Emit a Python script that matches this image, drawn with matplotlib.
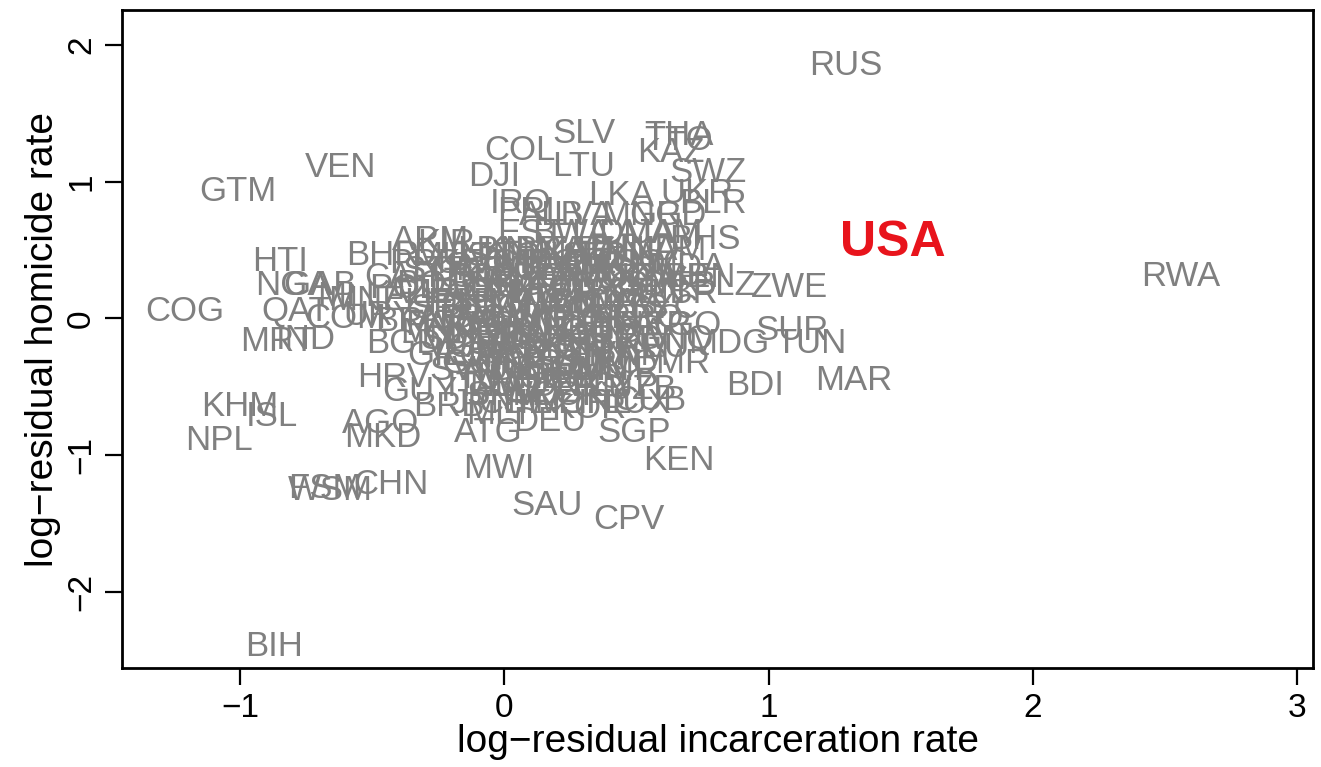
import matplotlib
matplotlib.use("Agg")
import matplotlib.pyplot as plt

# Country labels (ISO codes) and their log-residual coordinates
codes = [
    "RUS", "RWA", "GTM", "VEN", "COG", "HTI", "NGA", "GAB", "QAT", "MRT", "IND",
    "KHM", "ISL", "NPL", "AGO", "MKD", "FSM", "WSM", "CHN", "BIH", "MWI", "SAU",
    "CPV", "KEN", "SGP", "ATG", "DEU", "BDI", "MAR", "SUR", "TUN", "MDG", "ZWE",
    "CMR", "SWZ", "THA", "TTO", "KAZ", "SLV", "COL", "LTU", "DJI", "IRQ", "PRI",
    "LKA", "UKR", "BLR", "BHS", "MDA", "BLZ", "ARM", "KIR", "BHR", "HRV", "BGD",
    "BRB", "GUY", "CUB", "UZB", "MLI", "MNE", "POL", "BOL", "COM", "URY", "BRN",
    "ALB", "LVA", "MNG", "GRD", "EST", "BWA", "LCA", "DMA", "JAM",
    "LBN", "KNA", "BRA", "ZAF", "PAN", "HND", "NAM",
    "PRK", "GEO", "VCT", "MEX", "DOM", "ECU", "LSO", "NIC",
    "CAF", "TJK", "SLE", "CRI", "PER", "GHA", "MOZ", "UGA", "ZMB", "BEN",
    "AZE", "LAO", "IRN", "PHL", "KWT", "PRY", "TZA", "SEN", "LBR",
    "SRB", "BGR", "ROU", "TUR", "ARG", "CHL", "MYS", "SYC",
    "PAK", "JOR", "EGY", "HUN", "CZE", "GIN", "BFA", "NER", "TGO",
    "SDN", "YEM", "IDN", "SVK", "PRT", "ISR", "CIV", "GNQ",
    "GRC", "ESP", "ARE", "NZL", "CAN", "FRA", "VNM",
    "SVN", "AUS", "GBR", "BEL", "OMN", "MMR",
    "ITA", "NLD", "AUT", "DNK", "FIN", "CYP",
    "JPN", "CHE", "SWE", "NOR", "IRL", "LUX", "MLT", "KOR",
    "MUS", "BTN", "TON", "VUT", "SLB", "PLW",
    "STP", "GNB", "GMB", "SOM", "ERI", "ETH", "TCD",
    "LBY", "TKM", "KGZ", "AFG", "MCO", "AND", "SMR",
    "LIE", "PSE", "HKG", "MAC", "TWN", "BMU", "CYM",
    "ABW", "CUW", "GUM", "NCL", "PYF", "GRL", "FRO",
    "MNP", "VIR", "GIB", "IMN", "JEY", "GGY", "TCA",
    "VGB", "AIA", "MSR", "XKX", "SHN", "MYT", "REU",
    "GUF", "GLP", "MTQ", "SSD", "NRU",
    "TUV", "MHL", "SXM", "BES",
    "SPM", "WLF", "COK",
]

incarceration = [
    1.29, 2.56, -1.01, -0.62, -1.21, -0.85, -0.80, -0.70, -0.79, -0.86, -0.75,
    -1.00, -0.88, -1.08, -0.47, -0.46, -0.68, -0.66, -0.43, -0.87, -0.02, 0.16,
    0.47, 0.66, 0.49, -0.06, 0.17, 0.95, 1.32, 1.09, 1.16, 0.85, 1.08,
    0.63, 0.77, 0.66, 0.66, 0.63, 0.30, 0.06, 0.30, -0.04, 0.06, 0.08,
    0.44, 0.73, 0.79, 0.76, 0.69, 0.83, -0.28, -0.22, -0.46, -0.42, -0.38,
    -0.21, -0.32, 0.55, 0.52, -0.60, -0.52, -0.38, -0.28, -0.60, -0.47, -0.35,
    0.18, 0.30, 0.52, 0.62, 0.10, 0.25, 0.38, 0.50, 0.62,
    -0.05, 0.05, 0.17, 0.28, 0.40, 0.52, 0.62,
    -0.30, -0.12, 0.00, 0.12, 0.24, 0.36, 0.48, 0.58,
    -0.40, -0.20, -0.08, 0.05, 0.16, 0.27, 0.40, 0.52, 0.64, 0.74,
    -0.32, -0.18, -0.05, 0.06, 0.18, 0.30, 0.42, 0.55, 0.68,
    -0.22, -0.10, 0.02, 0.12, 0.24, 0.36, 0.48, 0.60,
    -0.25, -0.12, 0.00, 0.10, 0.22, 0.33, 0.45, 0.57, 0.68,
    -0.18, -0.06, 0.06, 0.17, 0.28, 0.40, 0.52, 0.64,
    -0.22, -0.10, 0.02, 0.14, 0.25, 0.37, 0.48,
    -0.15, -0.03, 0.08, 0.20, 0.32, 0.43,
    -0.12, 0.00, 0.12, 0.24, 0.36, 0.45,
    -0.08, 0.04, 0.14, 0.26, 0.38, 0.50, -0.02, 0.32,
    -0.20, -0.08, 0.10, 0.22, 0.34, 0.46,
    -0.26, -0.14, 0.00, 0.10, 0.22, 0.33, 0.45,
    -0.15, -0.02, 0.10, 0.22, 0.35, 0.48, 0.60,
    -0.28, -0.16, -0.04, 0.08, 0.20, 0.32, 0.44,
    -0.18, -0.06, 0.06, 0.18, 0.30, 0.42, 0.54,
    -0.25, -0.12, 0.00, 0.12, 0.24, 0.36, 0.48,
    -0.16, -0.04, 0.08, 0.20, 0.32, 0.44, 0.56,
    -0.10, 0.02, 0.14, 0.26, 0.38,
    -0.05, 0.08, 0.20, 0.32,
    0.00, 0.12, 0.24,
]

homicide = [
    1.85, 0.31, 0.93, 1.10, 0.05, 0.42, 0.24, 0.24, 0.05, -0.17, -0.15,
    -0.64, -0.72, -0.89, -0.77, -0.87, -1.24, -1.26, -1.21, -2.40, -1.10, -1.37,
    -1.47, -1.04, -0.83, -0.83, -0.75, -0.49, -0.45, -0.09, -0.18, -0.18, 0.23,
    -0.33, 1.07, 1.34, 1.30, 1.21, 1.35, 1.23, 1.11, 1.04, 0.84, 0.78,
    0.90, 0.91, 0.84, 0.58, 0.37, 0.24, 0.57, 0.55, 0.46, -0.43, -0.18,
    -0.64, -0.53, -0.60, -0.52, 0.16, 0.13, 0.22, 0.25, 0.00, 0.02, -0.02,
    0.75, 0.75, 0.75, 0.75, 0.62, 0.62, 0.62, 0.62, 0.62,
    0.50, 0.50, 0.50, 0.50, 0.50, 0.50, 0.50,
    0.40, 0.40, 0.40, 0.40, 0.40, 0.40, 0.40, 0.40,
    0.30, 0.30, 0.30, 0.30, 0.30, 0.30, 0.30, 0.30, 0.30, 0.30,
    0.18, 0.18, 0.18, 0.18, 0.18, 0.18, 0.18, 0.18, 0.18,
    0.07, 0.07, 0.07, 0.07, 0.07, 0.07, 0.07, 0.07,
    -0.05, -0.05, -0.05, -0.05, -0.05, -0.05, -0.05, -0.05, -0.05,
    -0.15, -0.15, -0.15, -0.15, -0.15, -0.15, -0.15, -0.15,
    -0.27, -0.27, -0.27, -0.27, -0.27, -0.27, -0.27,
    -0.38, -0.38, -0.38, -0.38, -0.38, -0.38,
    -0.50, -0.50, -0.50, -0.50, -0.50, -0.50,
    -0.62, -0.62, -0.62, -0.62, -0.62, -0.62, -0.70, -0.66,
    0.45, 0.45, 0.45, 0.45, 0.45, 0.45,
    0.35, 0.35, 0.35, 0.35, 0.35, 0.35, 0.35,
    0.24, 0.24, 0.24, 0.24, 0.24, 0.24, 0.24,
    0.12, 0.12, 0.12, 0.12, 0.12, 0.12, 0.12,
    0.00, 0.00, 0.00, 0.00, 0.00, 0.00, 0.00,
    -0.10, -0.10, -0.10, -0.10, -0.10, -0.10, -0.10,
    -0.21, -0.21, -0.21, -0.21, -0.21, -0.21, -0.21,
    -0.33, -0.33, -0.33, -0.33, -0.33,
    -0.44, -0.44, -0.44, -0.44,
    -0.56, -0.56, -0.56,
]

usa_label = "USA"
usa_x = 1.47
usa_y = 0.55

x_ticks = [-1, 0, 1, 2, 3]
y_ticks = [-2, -1, 0, 1, 2]

plt.rcParams['font.family'] = ['Liberation Sans', 'DejaVu Sans']

fig = plt.figure(figsize=(13.21, 7.67), dpi=100)
ax = fig.add_axes([0.0924, 0.129, 0.9016, 0.858])

for c, x, y in zip(codes, incarceration, homicide):
    ax.text(x, y, c, ha='center', va='center', fontsize=25, color='#808080')

ax.text(usa_x, usa_y, usa_label, ha='center', va='center', fontsize=36,
        color='#e8141c', fontweight='bold')

ax.set_xlim(-1.447, 3.06)
ax.set_ylim(-2.555, 2.255)
ax.set_xticks(x_ticks)
ax.set_yticks(y_ticks)
ax.set_xticklabels(["\u22121", "0", "1", "2", "3"])
ax.set_yticklabels(["\u22122", "\u22121", "0", "1", "2"], rotation=90, va='center')
ax.tick_params(axis='both', length=12, width=1.6, labelsize=24, pad=6)
for s in ax.spines.values():
    s.set_linewidth(2)
ax.set_xlabel("log\u2212residual incarceration rate", fontsize=28, labelpad=0)
ax.set_ylabel("log\u2212residual homicide rate", fontsize=28, labelpad=4)

fig.savefig("out.png", dpi=100)
